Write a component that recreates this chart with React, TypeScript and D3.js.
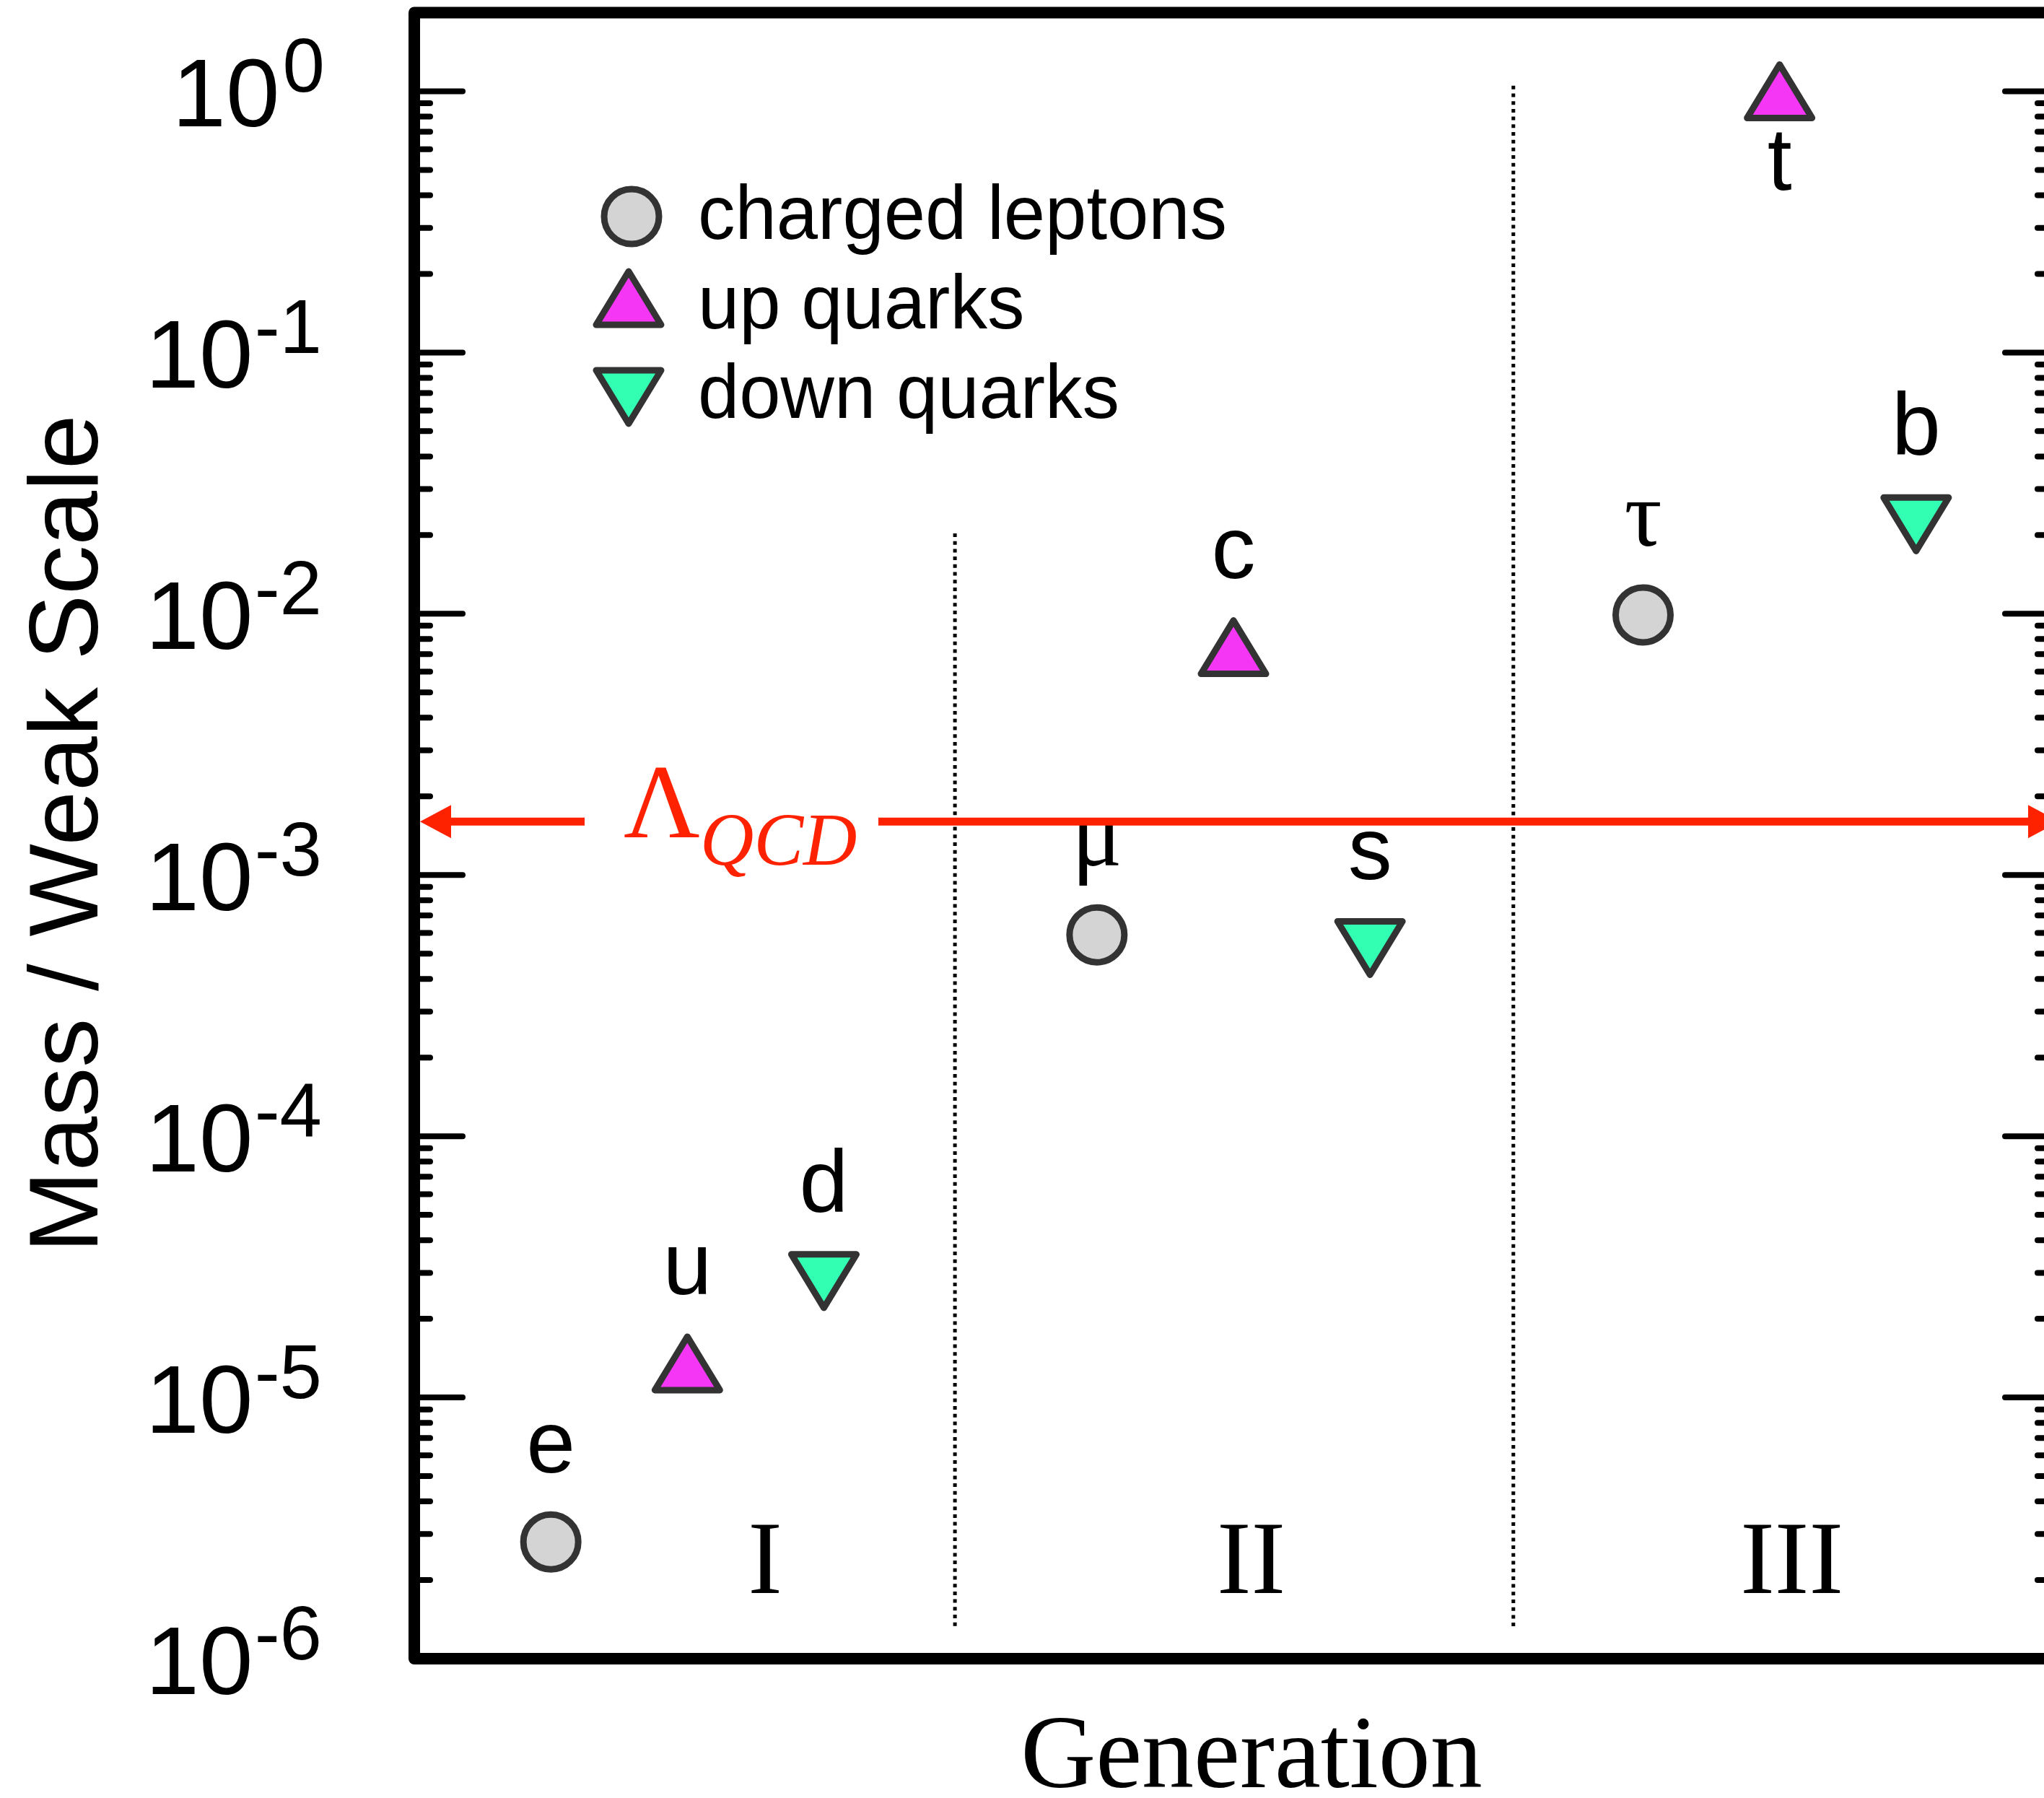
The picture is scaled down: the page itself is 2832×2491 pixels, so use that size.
import React from 'react';
import * as d3 from 'd3';

// ---------------- data ----------------
const particles = ['e', 'u', 'd', 'μ', 'c', 's', 'τ', 't', 'b'];
const families = ['lepton', 'up', 'down', 'lepton', 'up', 'down', 'lepton', 'up', 'down'];
const xPositions = [1, 2, 3, 5, 6, 7, 9, 10, 11];
const massOverWeak = [2.8e-6, 1.35e-5, 2.79e-5, 5.9e-4, 7.45e-3, 5.25e-4, 9.9e-3, 1.0, 2.2e-2];
const labelBelow = [false, false, false, false, false, false, false, true, false];
const greekLabels = [false, false, false, true, false, false, true, false, false];

const yTickExponents = [0, -1, -2, -3, -4, -5, -6];
const generationNames = ['I', 'II', 'III'];
const generationX = [2.57, 6.13, 10.09];
const dividerX = [3.96, 8.05];
const dividerTop = [0.0203, 1.05];
const dividerBottom = 1.3e-6;
const lambdaQCD = 1.6e-3;

const legendFamilies = ['lepton', 'up', 'down'];
const legendLabels = ['charged leptons', 'up quarks', 'down quarks'];

const xDomain = [0, 12];
const yDomain = [1e-6, 2.0];

// ---------------- styles ----------------
const W = 2832;
const H = 2491;
const left = 574;
const right = 2844;
const top = 17.5;
const bottom = 2298;
const SANS = "'Liberation Sans', Arial, Helvetica, sans-serif";
const SERIF = "'Liberation Serif', 'Times New Roman', Times, serif";
const RED = '#ff2200';
const fillFor: Record<string, string> = { lepton: '#d4d4d4', up: '#f536f5', down: '#33ffb3' };
const STROKE = '#333333';

function Marker({ family, x, y }: { family: string; x: number; y: number }) {
  const sw = 9;
  if (family === 'lepton') {
    return <circle cx={x} cy={y} r={38} fill={fillFor.lepton} stroke={STROKE} strokeWidth={sw} />;
  }
  const hw = 45;
  const hh = 37;
  const d = family === 'up'
    ? `M0,${-hh}L${hw},${hh}L${-hw},${hh}Z`
    : `M0,${hh}L${hw},${-hh}L${-hw},${-hh}Z`;
  return (
    <path
      d={d}
      transform={`translate(${x},${y})`}
      fill={fillFor[family]}
      stroke={STROKE}
      strokeWidth={sw}
      strokeLinejoin="round"
    />
  );
}

export default function App() {
  const x = d3.scaleLinear().domain(xDomain).range([left, right]);
  const y = d3.scaleLog().domain(yDomain).range([bottom, top]);

  const majorTicks = yTickExponents.map((e) => Math.pow(10, e));
  const minorTicks: number[] = [];
  yTickExponents.forEach((e) => {
    for (let m = 2; m <= 9; m++) {
      const v = m * Math.pow(10, e);
      if (v < yDomain[1] * 0.999) minorTicks.push(v);
    }
  });

  const yl = y(lambdaQCD);
  const arrowLeftTip = left + 8;
  const arrowRightTip = right + 9;
  const headLen = 43;
  const headHalf = 23;
  const gapStart = 810;
  const gapEnd = 1217;

  return (
    <svg
      width={W}
      height={H}
      viewBox={`0 0 ${W} ${H}`}
      style={{ position: 'absolute', left: 0, top: 0, background: '#fff' }}
    >
      <rect x={0} y={0} width={W} height={H} fill="#ffffff" />

      {/* dividers */}
      {dividerX.map((dx, i) => (
        <line
          key={'div' + i}
          x1={x(dx)}
          x2={x(dx)}
          y1={y(dividerTop[i])}
          y2={y(dividerBottom)}
          stroke="#000"
          strokeWidth={5}
          strokeDasharray="5,5.7"
        />
      ))}

      {/* generation numerals */}
      {generationNames.map((g, i) => (
        <text
          key={'gen' + i}
          x={x(generationX[i])}
          y={bottom - 91}
          textAnchor="middle"
          fontFamily={SERIF}
          fontSize={143}
          fill="#000"
        >
          {g}
        </text>
      ))}

      {/* minor ticks left & right */}
      {minorTicks.map((v, i) => (
        <g key={'mt' + i}>
          <line x1={left} x2={left + 22} y1={y(v)} y2={y(v)} stroke="#000" strokeWidth={8} strokeLinecap="round" />
          <line x1={right} x2={right - 21} y1={y(v)} y2={y(v)} stroke="#000" strokeWidth={8} strokeLinecap="round" />
        </g>
      ))}
      {/* major ticks */}
      {majorTicks.map((v, i) => (
        <g key={'Mt' + i}>
          <line x1={left} x2={left + 67} y1={y(v)} y2={y(v)} stroke="#000" strokeWidth={8} strokeLinecap="round" />
          <line x1={right} x2={right - 66} y1={y(v)} y2={y(v)} stroke="#000" strokeWidth={8} strokeLinecap="round" />
        </g>
      ))}

      {/* tick labels */}
      {yTickExponents.map((e, i) => (
        <text
          key={'tl' + i}
          x={e === 0 ? 450 : 446}
          y={y(majorTicks[i]) + 49}
          textAnchor="end"
          fontFamily={SANS}
          fontSize={134}
          fill="#000"
        >
          <tspan>10</tspan>
          <tspan fontSize={105} dy={-48} dx={e === 0 ? 4 : 2}>{e === 0 ? '0' : '-' + Math.abs(e)}</tspan>
        </text>
      ))}

      {/* frame */}
      <rect
        x={left}
        y={top}
        width={right - left}
        height={bottom - top}
        fill="none"
        stroke="#000"
        strokeWidth={16}
        strokeLinejoin="round"
      />

      {/* legend */}
      {legendFamilies.map((f, i) => {
        const my = [300, 413, 550][i];
        const mx = f === 'lepton' ? 875 : 871;
        const by = [331, 455, 579][i];
        return (
          <g key={'lg' + i}>
            <Marker family={f} x={mx} y={my} />
            <text
              transform={`translate(967,${by}) scale(0.972,1)`}
              fontFamily={SANS}
              fontSize={106}
              fill="#000"
            >
              {legendLabels[i]}
            </text>
          </g>
        );
      })}

      {/* points and labels */}
      {particles.map((p, i) => {
        const px = x(xPositions[i]);
        const py = y(massOverWeak[i]);
        return (
          <g key={'pt' + i}>
            <Marker family={families[i]} x={px} y={py} />
            <text
              x={px}
              y={labelBelow[i] ? py + 137 : py - 96}
              textAnchor="middle"
              fontFamily={greekLabels[i] ? SERIF : SANS}
              fontSize={greekLabels[i] ? 130 : 122}
              fill="#000"
            >
              {p}
            </text>
          </g>
        );
      })}

      {/* Lambda QCD arrow */}
      <line x1={arrowLeftTip + headLen - 2} x2={gapStart} y1={yl} y2={yl} stroke={RED} strokeWidth={11} />
      <line x1={gapEnd} x2={arrowRightTip - headLen + 2} y1={yl} y2={yl} stroke={RED} strokeWidth={11} />
      <path
        d={`M${arrowLeftTip},${yl}L${arrowLeftTip + headLen},${yl - headHalf}L${arrowLeftTip + headLen},${yl + headHalf}Z`}
        fill={RED}
      />
      <path
        d={`M${arrowRightTip},${yl}L${arrowRightTip - headLen},${yl - headHalf}L${arrowRightTip - headLen},${yl + headHalf}Z`}
        fill={RED}
      />
      <text x={864} y={yl + 22} fontFamily={SERIF} fontSize={146} fill={RED}>
        Λ
      </text>
      <text x={970} y={yl + 60} fontFamily={SERIF} fontStyle="italic" fontSize={103} fill={RED}>
        QCD
      </text>

      {/* axis titles */}
      <text
        transform={`translate(135,1155) rotate(-90)`}
        textAnchor="middle"
        fontFamily={SANS}
        fontSize={136}
        fill="#000"
      >
        Mass / Weak Scale
      </text>
      <text x={1734} y={2476} textAnchor="middle" fontFamily={SERIF} fontSize={144} fill="#000">
        Generation
      </text>
    </svg>
  );
}
